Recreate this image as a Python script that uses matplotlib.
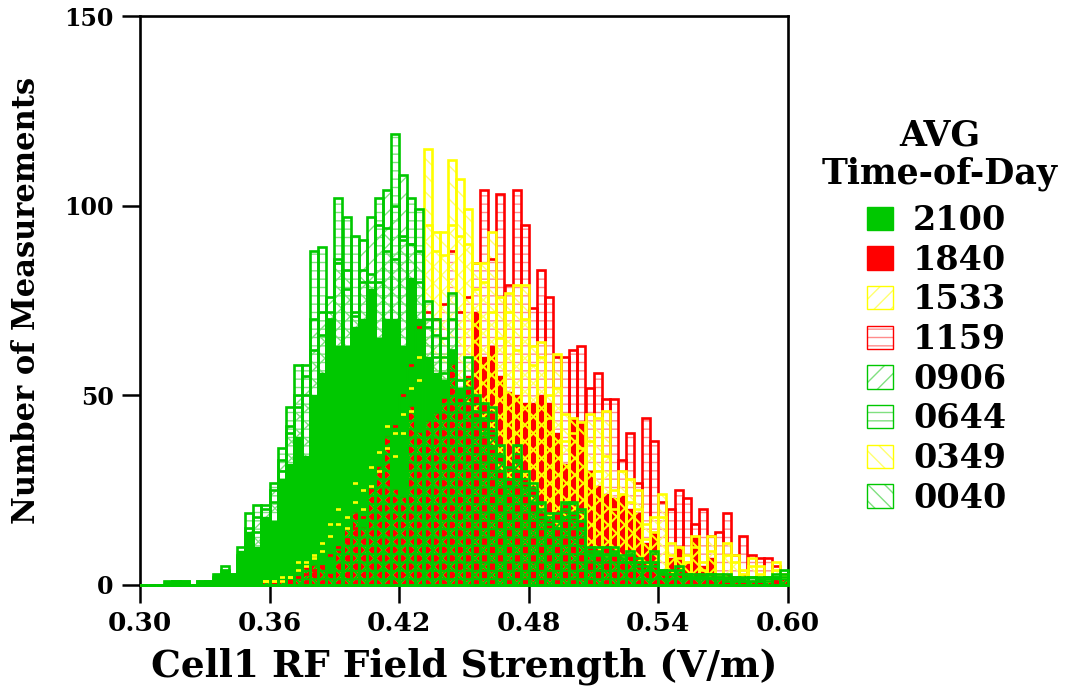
import numpy as np
import matplotlib
matplotlib.use('Agg')
import matplotlib.pyplot as plt
from matplotlib.patches import Patch
from matplotlib.legend_handler import HandlerTuple

plt.rcParams['font.family'] = ['DejaVu Serif']
plt.rcParams['font.weight'] = 'bold'
plt.rcParams['hatch.linewidth'] = 1.0

bin_edges = np.linspace(0.30, 0.60, 81)

t2100 = [0,0,0,1,1,1,0,1,1,3, 4,3,9,14,10,18,17,28,32,39,
         34,50,56,70,63,63,68,70,78,65, 70,70,63,81,70,60,56,54,62,52,
         54,54,45,43,34,29,34,28,25,20, 17,17,19,20,17,9,9,9,9,7,
         8,6,5,6,4,3,4,3,2,2, 2,2,2,2,1,1,1,2,2,3]
t1840 = [0,0,0,0,0,0,0,0,0,0, 0,0,0,0,0,1,1,1,2,2,
         5,5,5,3,9,15,19,15,26,31, 39,25,23,47,40,43,45,49,58,49,
         55,72,60,63,55,51,50,48,48,50, 48,40,32,44,43,30,26,24,23,24,
         20,19,11,14,3,7,10,6,13,5, 7,3,3,2,3,1,2,2,2,2]
t1533 = [0,0,0,0,0,0,0,0,0,0, 0,0,0,0,0,1,1,1,2,4,
         5,7,9,13,16,15,22,20,26,30, 36,34,40,46,54,95,88,87,95,92,
         90,78,80,72,65,72,62,70,58,60, 44,52,38,40,36,38,30,34,20,24,
         22,20,12,14,18,8,7,6,10,4, 9,2,8,6,3,5,3,1,4,2]
t1159 = [0,0,0,0,0,0,0,0,0,0, 0,0,0,0,0,0,0,1,1,2,
         3,4,5,8,10,12,15,18,25,30, 38,42,50,58,68,72,70,74,88,72,
         76,85,104,86,103,79,104,95,73,83, 76,60,60,62,63,52,56,49,49,33,
         40,27,44,38,22,20,25,23,16,20, 13,14,19,8,13,8,7,7,5,3]
t0906 = [0,0,0,0,1,1,0,0,1,2, 4,3,8,15,18,20,25,33,42,50,
         55,70,72,76,85,78,72,91,97,95, 104,100,108,90,80,70,66,60,70,50,
         52,46,44,40,34,28,33,27,25,20, 18,17,20,19,17,9,9,8,9,7,
         8,6,5,6,4,3,4,3,2,2, 3,2,2,2,1,2,1,2,2,3]
t0644 = [0,0,0,1,1,1,0,1,1,3, 5,3,10,19,21,21,27,36,47,58,
         58,88,89,70,102,97,92,80,80,102, 88,119,92,102,99,75,70,65,77,54,
         60,50,48,47,37,31,37,30,27,22, 19,19,22,22,20,10,10,10,10,8,
         9,7,6,9,4,4,5,3,3,3, 3,3,3,2,2,2,2,2,3,4]
t0349 = [0,0,0,0,0,0,0,0,0,0, 0,0,0,0,0,1,1,2,2,6,
         6,8,11,16,20,18,27,25,31,35, 42,40,45,52,60,115,93,93,112,107,
         99,85,85,93,76,77,79,79,63,64, 50,61,45,44,43,45,44,46,25,30,
         28,25,16,18,24,11,10,8,13,6, 13,3,11,8,4,7,5,2,6,3]
t0040 = [0,0,0,0,1,0,0,1,1,1, 3,2,7,12,14,17,22,30,40,47,
         50,62,66,72,86,83,71,83,82,80, 94,86,91,90,88,68,60,56,62,48,
         48,44,40,36,30,26,30,25,22,18, 16,15,18,18,15,8,8,7,8,6,
         6,5,4,5,3,3,3,2,2,2, 2,2,1,1,1,1,1,1,2,2]

legend_labels = ['2100', '1840', '1533', '1159', '0906', '0644', '0349', '0040']

GREEN = '#00c800'
RED = '#ff0000'
YELLOW = '#ffff00'
LIGHT_GREEN = '#80e080'
LIGHT_RED = '#ff8c8c'
LIGHT_YELLOW = '#ffff70'

fig = plt.figure(figsize=(10.65, 6.9), dpi=100)
ax = fig.add_axes([140 / 1065, 105 / 690, 648 / 1065, 569 / 690])

left = bin_edges[:-1]
width = bin_edges[1] - bin_edges[0]

def hatch_layer(vals, color, hatch, z):
    ax.bar(left, vals, width, align='edge', fill=False, edgecolor=color, linewidth=0, hatch=hatch, zorder=z)

def outline(vals, color, z):
    bars = ax.bar(left, vals, width, align='edge', fill=False, edgecolor=color, linewidth=1.9, zorder=z)
    for b in bars:
        b.set_clip_on(False)

# light hatching on the white paper, the solid bars cover it
hatch_layer(t1159, LIGHT_RED, '--', 3)
hatch_layer(t1533, LIGHT_YELLOW, '//', 3)
hatch_layer(t0349, LIGHT_YELLOW, '\\\\', 3)
hatch_layer(t0906, LIGHT_GREEN, '//', 3)
hatch_layer(t0644, LIGHT_GREEN, '--', 3)
hatch_layer(t0040, LIGHT_GREEN, '\\\\', 3)

ax.bar(left, t2100, width, align='edge', color=GREEN, edgecolor=GREEN, linewidth=1.0, zorder=4)
ax.bar(left, t1840, width, align='edge', color=RED, edgecolor=RED, linewidth=1.0, zorder=5)

# full colour hatching shows only where it runs over the red block
plt.rcParams['hatch.linewidth'] = 1.5
hatch_layer(np.minimum(t1533, t1840), YELLOW, '//', 6)
hatch_layer(np.minimum(t0349, t1840), YELLOW, '\\\\', 6)
hatch_layer(np.minimum(t0906, t1840), GREEN, '//', 7)
hatch_layer(np.minimum(t0644, t1840), GREEN, '--', 7)
hatch_layer(np.minimum(t0040, t1840), GREEN, '\\\\', 7)
plt.rcParams['hatch.linewidth'] = 1.0

outline(t1159, RED, 8)
outline(t1533, YELLOW, 9)
outline(t0349, YELLOW, 9)
outline(t0906, GREEN, 10)
outline(t0644, GREEN, 10)
outline(t0040, GREEN, 10)

ax.set_xlim(0.30, 0.60)
ax.set_ylim(0, 150)
ax.set_xticks([0.30, 0.36, 0.42, 0.48, 0.54, 0.60])
ax.set_xticklabels(['0.30', '0.36', '0.42', '0.48', '0.54', '0.60'])
ax.set_yticks([0, 50, 100, 150])
ax.tick_params(length=13, width=1.8, labelsize=19, pad=6)
ax.tick_params(axis='y', labelsize=17)
for s in ax.spines.values():
    s.set_linewidth(1.9)
ax.spines['bottom'].set_zorder(1)

ax.set_xlabel('Cell1 RF Field Strength (V/m)', fontsize=27, fontweight='bold', labelpad=8)
ax.set_ylabel('Number of Measurements', fontsize=22, fontweight='bold', labelpad=16)

def hatch_handle(color, light, hatch):
    return (Patch(fill=False, edgecolor=light, linewidth=0, hatch=hatch),
            Patch(fill=False, edgecolor=color, linewidth=1.0))

handles = [
    Patch(facecolor=GREEN, edgecolor=GREEN),
    Patch(facecolor=RED, edgecolor=RED),
    hatch_handle(YELLOW, LIGHT_YELLOW, '//'),
    hatch_handle(RED, LIGHT_RED, '--'),
    hatch_handle(GREEN, LIGHT_GREEN, '//'),
    hatch_handle(GREEN, LIGHT_GREEN, '--'),
    hatch_handle(YELLOW, LIGHT_YELLOW, '\\\\'),
    hatch_handle(GREEN, LIGHT_GREEN, '\\\\'),
]
fig.legend(handles, legend_labels, loc='upper left',
           bbox_to_anchor=(867 / 1065, 1 - 204 / 690), frameon=False, fontsize=24,
           borderpad=0, borderaxespad=0,
           handler_map={tuple: HandlerTuple(ndivide=1, pad=0)},
           handlelength=0.78, handleheight=0.69, handletextpad=0.6, labelspacing=0.2)
fig.text(940 / 1065, 1 - 135 / 690, 'AVG', fontsize=25, ha='center', va='center')
fig.text(940 / 1065, 1 - 174 / 690, 'Time-of-Day', fontsize=25, ha='center', va='center')

fig.savefig('out.png', dpi=100)
